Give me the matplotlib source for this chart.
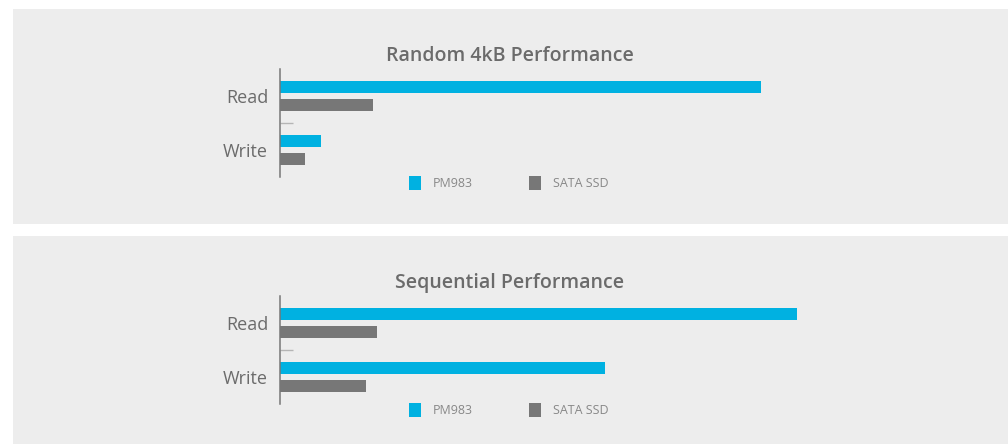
import matplotlib
matplotlib.use("Agg")
import matplotlib.pyplot as plt
from matplotlib.patches import Rectangle

# data
categories = ["Read", "Write"]
series = ["PM983", "SATA SSD"]
random_pm983 = [540, 46]      # K IOPS
random_sata = [104, 28]
seq_pm983 = [3200, 2010]      # MB/s
seq_sata = [600, 530]

cyan = "#00b1e1"
grey = "#777777"
panel_bg = "#ededed"
text_col = "#6b6b6b"

W, H = 1008, 444
fig = plt.figure(figsize=(W / 100, H / 100), dpi=100)
fig.patch.set_facecolor("white")
plt.rcParams["font.family"] = ["Open Sans", "DejaVu Sans"]


def px_rect(x0, y0, x1, y1):
    # pixel box (top-left origin) -> figure fraction [l, b, w, h]
    return [x0 / W, 1 - y1 / H, (x1 - x0) / W, (y1 - y0) / H]


def panel(top, title, pm, sata, xmax):
    l, b, w, h = px_rect(13, top, W, top + 215)
    fig.patches.append(Rectangle((l, b), w, h, transform=fig.transFigure,
                                 facecolor=panel_bg, edgecolor="none", zorder=-5))
    fig.text(510 / W, 1 - (top + 47) / H, title, ha="center", va="center",
             fontsize=14, fontweight="semibold", color=text_col)

    ax = fig.add_axes(px_rect(280, top + 60, 900, top + 168))
    ax.set_zorder(2)
    ax.patch.set_alpha(0)
    pos_pm = [0, 3]
    pos_sata = [1, 4]
    hb = ax.barh(pos_pm, pm, height=0.67, color=cyan, label=series[0])
    hs = ax.barh(pos_sata, sata, height=0.67, color=grey, label=series[1])
    ax.set_ylim(5, -1)
    ax.set_xlim(0, xmax)
    for s in ["top", "right", "bottom"]:
        ax.spines[s].set_visible(False)
    ax.spines["left"].set_color(grey)
    ax.spines["left"].set_linewidth(1.1)
    ax.set_xticks([])
    ax.set_yticks([0.5, 3.5])
    ax.set_yticklabels(categories, fontsize=13, color=text_col)
    ax.tick_params(axis="y", which="major", length=0, pad=8.5)
    ax.set_yticks([2], minor=True)
    ax.tick_params(axis="y", which="minor", direction="in", length=9,
                   width=1, color="#b5b5b5")

    leg = fig.legend(handles=[hb, hs], labels=series, loc="center left",
                     bbox_to_anchor=(398 / W, 1 - (top + 174) / H), ncol=2,
                     frameon=False, fontsize=9, labelcolor="#888888",
                     handlelength=0.95, handleheight=1.3, handletextpad=0.96,
                     columnspacing=4.5)
    leg.set_zorder(3)


panel(9, "Random 4kB Performance", random_pm983, random_sata, 696)
panel(236, "Sequential Performance", seq_pm983, seq_sata, 3837)

fig.savefig("out.png", dpi=100)
